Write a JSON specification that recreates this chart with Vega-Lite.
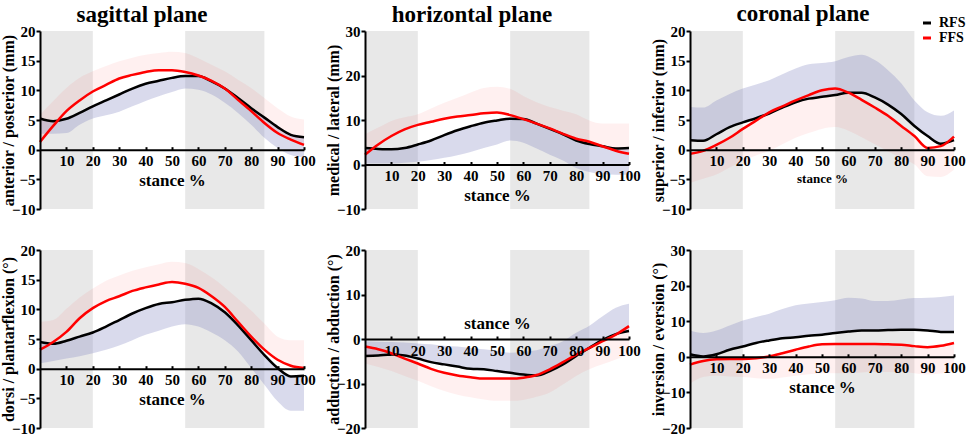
{
  "$schema": "https://vega.github.io/schema/vega-lite/v6.json",
  "description": "Mean curves (RFS vs FFS) with one-sided SD bands over stance, six panels",
  "padding": {"left": 0, "top": 2, "right": 0, "bottom": 0},
  "autosize": {"type": "pad"},
  "datasets": {
    "shade": [{"x": 0, "x2": 20}, {"x": 55, "x2": 85}],
    "curves": [
      {"p":1,"g":"RFS","x":0,"m":5.25,"b":2.7},{"p":1,"g":"RFS","x":5,"m":4.8,"b":2.7},{"p":1,"g":"RFS","x":10,"m":5.2,"b":2.8},{"p":1,"g":"RFS","x":15,"m":6.2,"b":4.2},{"p":1,"g":"RFS","x":20,"m":7.3,"b":5.25},{"p":1,"g":"RFS","x":25,"m":8.3,"b":5.8},{"p":1,"g":"RFS","x":30,"m":9.3,"b":6.4},{"p":1,"g":"RFS","x":35,"m":10.3,"b":7.3},{"p":1,"g":"RFS","x":40,"m":11.1,"b":8.2},{"p":1,"g":"RFS","x":45,"m":11.6,"b":9.0},{"p":1,"g":"RFS","x":50,"m":12.1,"b":9.7},{"p":1,"g":"RFS","x":55,"m":12.4,"b":10.3},{"p":1,"g":"RFS","x":60,"m":12.4,"b":10.1},{"p":1,"g":"RFS","x":65,"m":11.5,"b":9.3},{"p":1,"g":"RFS","x":70,"m":10.3,"b":7.9},{"p":1,"g":"RFS","x":75,"m":8.7,"b":6.2},{"p":1,"g":"RFS","x":80,"m":7.0,"b":4.2},{"p":1,"g":"RFS","x":85,"m":5.4,"b":2.0},{"p":1,"g":"RFS","x":90,"m":3.8,"b":0.3},{"p":1,"g":"RFS","x":95,"m":2.5,"b":-0.9},{"p":1,"g":"RFS","x":100,"m":2.1,"b":-1.3},
      {"p":1,"g":"FFS","x":0,"m":1.3,"b":5.9},{"p":1,"g":"FFS","x":5,"m":4.0,"b":8.2},{"p":1,"g":"FFS","x":10,"m":6.5,"b":10.4},{"p":1,"g":"FFS","x":15,"m":8.3,"b":12.1},{"p":1,"g":"FFS","x":20,"m":9.8,"b":13.2},{"p":1,"g":"FFS","x":25,"m":10.9,"b":14.1},{"p":1,"g":"FFS","x":30,"m":12.0,"b":14.9},{"p":1,"g":"FFS","x":35,"m":12.6,"b":15.5},{"p":1,"g":"FFS","x":40,"m":13.1,"b":16.0},{"p":1,"g":"FFS","x":45,"m":13.4,"b":16.3},{"p":1,"g":"FFS","x":50,"m":13.4,"b":16.5},{"p":1,"g":"FFS","x":55,"m":13.1,"b":16.3},{"p":1,"g":"FFS","x":60,"m":12.5,"b":15.4},{"p":1,"g":"FFS","x":65,"m":11.6,"b":14.3},{"p":1,"g":"FFS","x":70,"m":10.3,"b":13.2},{"p":1,"g":"FFS","x":75,"m":8.4,"b":11.8},{"p":1,"g":"FFS","x":80,"m":6.5,"b":10.4},{"p":1,"g":"FFS","x":85,"m":4.5,"b":8.7},{"p":1,"g":"FFS","x":90,"m":2.8,"b":7.0},{"p":1,"g":"FFS","x":95,"m":1.7,"b":5.6},{"p":1,"g":"FFS","x":100,"m":0.8,"b":5.1},
      {"p":2,"g":"RFS","x":0,"m":3.7,"b":0.2},{"p":2,"g":"RFS","x":5,"m":3.5,"b":0.2},{"p":2,"g":"RFS","x":10,"m":3.4,"b":0.2},{"p":2,"g":"RFS","x":15,"m":3.7,"b":0.4},{"p":2,"g":"RFS","x":20,"m":4.5,"b":0.6},{"p":2,"g":"RFS","x":25,"m":5.4,"b":1.0},{"p":2,"g":"RFS","x":30,"m":6.6,"b":1.5},{"p":2,"g":"RFS","x":35,"m":7.7,"b":2.1},{"p":2,"g":"RFS","x":40,"m":8.6,"b":2.8},{"p":2,"g":"RFS","x":45,"m":9.4,"b":3.7},{"p":2,"g":"RFS","x":50,"m":9.9,"b":4.5},{"p":2,"g":"RFS","x":55,"m":10.3,"b":5.4},{"p":2,"g":"RFS","x":60,"m":10.2,"b":4.9},{"p":2,"g":"RFS","x":65,"m":9.2,"b":3.6},{"p":2,"g":"RFS","x":70,"m":8.0,"b":2.2},{"p":2,"g":"RFS","x":75,"m":6.8,"b":0.9},{"p":2,"g":"RFS","x":80,"m":5.4,"b":-0.8},{"p":2,"g":"RFS","x":85,"m":4.6,"b":-1.7},{"p":2,"g":"RFS","x":90,"m":4.1,"b":-2.2},{"p":2,"g":"RFS","x":95,"m":3.6,"b":-2.3},{"p":2,"g":"RFS","x":100,"m":3.7,"b":-2.3},
      {"p":2,"g":"FFS","x":0,"m":2.2,"b":6.8},{"p":2,"g":"FFS","x":5,"m":4.5,"b":8.3},{"p":2,"g":"FFS","x":10,"m":6.4,"b":9.8},{"p":2,"g":"FFS","x":15,"m":7.9,"b":10.6},{"p":2,"g":"FFS","x":20,"m":8.9,"b":11.3},{"p":2,"g":"FFS","x":25,"m":9.6,"b":12.6},{"p":2,"g":"FFS","x":30,"m":10.3,"b":13.9},{"p":2,"g":"FFS","x":35,"m":10.8,"b":15.0},{"p":2,"g":"FFS","x":40,"m":11.1,"b":16.2},{"p":2,"g":"FFS","x":45,"m":11.5,"b":17.2},{"p":2,"g":"FFS","x":50,"m":11.7,"b":17.5},{"p":2,"g":"FFS","x":55,"m":11.1,"b":17.0},{"p":2,"g":"FFS","x":60,"m":10.2,"b":15.4},{"p":2,"g":"FFS","x":65,"m":9.2,"b":14.0},{"p":2,"g":"FFS","x":70,"m":8.1,"b":12.9},{"p":2,"g":"FFS","x":75,"m":6.9,"b":12.1},{"p":2,"g":"FFS","x":80,"m":5.8,"b":11.3},{"p":2,"g":"FFS","x":85,"m":5.1,"b":9.9},{"p":2,"g":"FFS","x":90,"m":4.1,"b":9.2},{"p":2,"g":"FFS","x":95,"m":3.1,"b":9.2},{"p":2,"g":"FFS","x":100,"m":2.4,"b":9.2},
      {"p":3,"g":"RFS","x":0,"m":1.6,"b":7.2},{"p":3,"g":"RFS","x":5,"m":1.5,"b":7.1},{"p":3,"g":"RFS","x":10,"m":2.6,"b":8.3},{"p":3,"g":"RFS","x":15,"m":3.8,"b":9.4},{"p":3,"g":"RFS","x":20,"m":4.6,"b":10.3},{"p":3,"g":"RFS","x":25,"m":5.3,"b":11.0},{"p":3,"g":"RFS","x":30,"m":6.1,"b":11.7},{"p":3,"g":"RFS","x":35,"m":7.1,"b":12.7},{"p":3,"g":"RFS","x":40,"m":8.0,"b":13.7},{"p":3,"g":"RFS","x":45,"m":8.6,"b":14.4},{"p":3,"g":"RFS","x":50,"m":8.9,"b":14.6},{"p":3,"g":"RFS","x":55,"m":9.2,"b":14.9},{"p":3,"g":"RFS","x":60,"m":9.6,"b":15.6},{"p":3,"g":"RFS","x":65,"m":9.6,"b":16.0},{"p":3,"g":"RFS","x":70,"m":8.8,"b":15.1},{"p":3,"g":"RFS","x":75,"m":7.6,"b":13.4},{"p":3,"g":"RFS","x":80,"m":6.0,"b":11.2},{"p":3,"g":"RFS","x":85,"m":4.0,"b":8.3},{"p":3,"g":"RFS","x":90,"m":2.3,"b":6.3},{"p":3,"g":"RFS","x":95,"m":1.0,"b":5.7},{"p":3,"g":"RFS","x":100,"m":1.6,"b":6.6},
      {"p":3,"g":"FFS","x":0,"m":-0.7,"b":-5.6},{"p":3,"g":"FFS","x":5,"m":-0.2,"b":-4.9},{"p":3,"g":"FFS","x":10,"m":0.8,"b":-4.2},{"p":3,"g":"FFS","x":15,"m":2.0,"b":-3.0},{"p":3,"g":"FFS","x":20,"m":3.5,"b":-1.9},{"p":3,"g":"FFS","x":25,"m":4.9,"b":-1.0},{"p":3,"g":"FFS","x":30,"m":6.3,"b":-0.2},{"p":3,"g":"FFS","x":35,"m":7.3,"b":0.9},{"p":3,"g":"FFS","x":40,"m":8.3,"b":2.0},{"p":3,"g":"FFS","x":45,"m":9.2,"b":2.8},{"p":3,"g":"FFS","x":50,"m":10.0,"b":3.5},{"p":3,"g":"FFS","x":55,"m":10.3,"b":3.8},{"p":3,"g":"FFS","x":60,"m":9.6,"b":3.2},{"p":3,"g":"FFS","x":65,"m":8.4,"b":2.1},{"p":3,"g":"FFS","x":70,"m":7.1,"b":0.9},{"p":3,"g":"FFS","x":75,"m":5.7,"b":-0.3},{"p":3,"g":"FFS","x":80,"m":4.0,"b":-1.4},{"p":3,"g":"FFS","x":85,"m":2.3,"b":-2.5},{"p":3,"g":"FFS","x":90,"m":0.3,"b":-4.5},{"p":3,"g":"FFS","x":95,"m":0.6,"b":-4.6},{"p":3,"g":"FFS","x":100,"m":2.2,"b":-3.4},
      {"p":4,"g":"RFS","x":0,"m":4.5,"b":0.9},{"p":4,"g":"RFS","x":5,"m":4.2,"b":1.3},{"p":4,"g":"RFS","x":10,"m":4.7,"b":1.7},{"p":4,"g":"RFS","x":15,"m":5.4,"b":2.1},{"p":4,"g":"RFS","x":20,"m":6.1,"b":2.6},{"p":4,"g":"RFS","x":25,"m":7.1,"b":3.2},{"p":4,"g":"RFS","x":30,"m":8.2,"b":3.9},{"p":4,"g":"RFS","x":35,"m":9.3,"b":4.8},{"p":4,"g":"RFS","x":40,"m":10.2,"b":5.7},{"p":4,"g":"RFS","x":45,"m":10.9,"b":6.4},{"p":4,"g":"RFS","x":50,"m":11.2,"b":7.1},{"p":4,"g":"RFS","x":55,"m":11.6,"b":7.5},{"p":4,"g":"RFS","x":60,"m":11.8,"b":7.1},{"p":4,"g":"RFS","x":65,"m":11.0,"b":6.1},{"p":4,"g":"RFS","x":70,"m":9.5,"b":4.8},{"p":4,"g":"RFS","x":75,"m":7.3,"b":2.9},{"p":4,"g":"RFS","x":80,"m":4.8,"b":0.1},{"p":4,"g":"RFS","x":85,"m":2.3,"b":-2.7},{"p":4,"g":"RFS","x":90,"m":0.1,"b":-5.5},{"p":4,"g":"RFS","x":95,"m":-1.3,"b":-7.1},{"p":4,"g":"RFS","x":100,"m":-1.2,"b":-7.1},
      {"p":4,"g":"FFS","x":0,"m":3.2,"b":7.9},{"p":4,"g":"FFS","x":5,"m":4.5,"b":8.2},{"p":4,"g":"FFS","x":10,"m":6.2,"b":10.1},{"p":4,"g":"FFS","x":15,"m":8.5,"b":12.0},{"p":4,"g":"FFS","x":20,"m":10.2,"b":13.5},{"p":4,"g":"FFS","x":25,"m":11.4,"b":14.8},{"p":4,"g":"FFS","x":30,"m":12.2,"b":15.7},{"p":4,"g":"FFS","x":35,"m":13.1,"b":16.5},{"p":4,"g":"FFS","x":40,"m":13.7,"b":17.1},{"p":4,"g":"FFS","x":45,"m":14.2,"b":17.6},{"p":4,"g":"FFS","x":50,"m":14.6,"b":18.0},{"p":4,"g":"FFS","x":55,"m":14.3,"b":17.8},{"p":4,"g":"FFS","x":60,"m":13.6,"b":16.8},{"p":4,"g":"FFS","x":65,"m":12.2,"b":15.4},{"p":4,"g":"FFS","x":70,"m":10.4,"b":13.7},{"p":4,"g":"FFS","x":75,"m":7.9,"b":11.8},{"p":4,"g":"FFS","x":80,"m":5.4,"b":9.8},{"p":4,"g":"FFS","x":85,"m":3.2,"b":7.6},{"p":4,"g":"FFS","x":90,"m":1.5,"b":5.4},{"p":4,"g":"FFS","x":95,"m":0.5,"b":4.8},{"p":4,"g":"FFS","x":100,"m":0.1,"b":4.8},
      {"p":5,"g":"RFS","x":0,"m":-3.8,"b":-0.5},{"p":5,"g":"RFS","x":5,"m":-3.7,"b":-0.6},{"p":5,"g":"RFS","x":10,"m":-3.5,"b":-0.7},{"p":5,"g":"RFS","x":15,"m":-3.7,"b":-0.8},{"p":5,"g":"RFS","x":20,"m":-4.4,"b":-1.0},{"p":5,"g":"RFS","x":25,"m":-5.2,"b":-1.2},{"p":5,"g":"RFS","x":30,"m":-5.7,"b":-1.5},{"p":5,"g":"RFS","x":35,"m":-6.2,"b":-1.7},{"p":5,"g":"RFS","x":40,"m":-6.7,"b":-2.0},{"p":5,"g":"RFS","x":45,"m":-6.8,"b":-2.3},{"p":5,"g":"RFS","x":50,"m":-7.2,"b":-2.7},{"p":5,"g":"RFS","x":55,"m":-7.6,"b":-3.1},{"p":5,"g":"RFS","x":60,"m":-8.0,"b":-2.9},{"p":5,"g":"RFS","x":65,"m":-8.2,"b":-2.5},{"p":5,"g":"RFS","x":70,"m":-7.2,"b":-1.6},{"p":5,"g":"RFS","x":75,"m":-5.7,"b":-0.5},{"p":5,"g":"RFS","x":80,"m":-3.8,"b":1.4},{"p":5,"g":"RFS","x":85,"m":-2.0,"b":3.0},{"p":5,"g":"RFS","x":90,"m":-0.2,"b":5.1},{"p":5,"g":"RFS","x":95,"m":1.1,"b":7.0},{"p":5,"g":"RFS","x":100,"m":1.8,"b":7.9},
      {"p":5,"g":"FFS","x":0,"m":-1.7,"b":-5.5},{"p":5,"g":"FFS","x":5,"m":-2.3,"b":-6.3},{"p":5,"g":"FFS","x":10,"m":-3.2,"b":-7.2},{"p":5,"g":"FFS","x":15,"m":-4.4,"b":-8.3},{"p":5,"g":"FFS","x":20,"m":-5.5,"b":-9.4},{"p":5,"g":"FFS","x":25,"m":-6.7,"b":-10.6},{"p":5,"g":"FFS","x":30,"m":-7.6,"b":-11.7},{"p":5,"g":"FFS","x":35,"m":-8.2,"b":-12.5},{"p":5,"g":"FFS","x":40,"m":-8.6,"b":-13.1},{"p":5,"g":"FFS","x":45,"m":-8.9,"b":-13.6},{"p":5,"g":"FFS","x":50,"m":-8.9,"b":-13.9},{"p":5,"g":"FFS","x":55,"m":-8.9,"b":-13.9},{"p":5,"g":"FFS","x":60,"m":-8.7,"b":-13.7},{"p":5,"g":"FFS","x":65,"m":-8.1,"b":-13.0},{"p":5,"g":"FFS","x":70,"m":-6.8,"b":-12.0},{"p":5,"g":"FFS","x":75,"m":-5.2,"b":-10.2},{"p":5,"g":"FFS","x":80,"m":-3.5,"b":-8.3},{"p":5,"g":"FFS","x":85,"m":-2.0,"b":-6.8},{"p":5,"g":"FFS","x":90,"m":-0.5,"b":-5.7},{"p":5,"g":"FFS","x":95,"m":1.0,"b":-4.6},{"p":5,"g":"FFS","x":100,"m":2.9,"b":-3.5},
      {"p":6,"g":"RFS","x":0,"m":0.7,"b":7.4},{"p":6,"g":"RFS","x":5,"m":0.1,"b":6.7},{"p":6,"g":"RFS","x":10,"m":0.7,"b":7.4},{"p":6,"g":"RFS","x":15,"m":2.0,"b":8.8},{"p":6,"g":"RFS","x":20,"m":2.9,"b":10.2},{"p":6,"g":"RFS","x":25,"m":3.9,"b":11.2},{"p":6,"g":"RFS","x":30,"m":4.6,"b":12.1},{"p":6,"g":"RFS","x":35,"m":5.2,"b":13.4},{"p":6,"g":"RFS","x":40,"m":5.5,"b":14.5},{"p":6,"g":"RFS","x":45,"m":5.9,"b":15.0},{"p":6,"g":"RFS","x":50,"m":6.2,"b":15.4},{"p":6,"g":"RFS","x":55,"m":6.7,"b":15.9},{"p":6,"g":"RFS","x":60,"m":7.1,"b":16.6},{"p":6,"g":"RFS","x":65,"m":7.4,"b":16.4},{"p":6,"g":"RFS","x":70,"m":7.4,"b":15.7},{"p":6,"g":"RFS","x":75,"m":7.5,"b":15.7},{"p":6,"g":"RFS","x":80,"m":7.6,"b":16.1},{"p":6,"g":"RFS","x":85,"m":7.6,"b":16.5},{"p":6,"g":"RFS","x":90,"m":7.4,"b":16.6},{"p":6,"g":"RFS","x":95,"m":7.0,"b":16.8},{"p":6,"g":"RFS","x":100,"m":7.0,"b":17.2},
      {"p":6,"g":"FFS","x":0,"m":-2.2,"b":-7.6},{"p":6,"g":"FFS","x":5,"m":-1.2,"b":-5.7},{"p":6,"g":"FFS","x":10,"m":-0.7,"b":-5.3},{"p":6,"g":"FFS","x":15,"m":-0.6,"b":-5.5},{"p":6,"g":"FFS","x":20,"m":-0.6,"b":-5.7},{"p":6,"g":"FFS","x":25,"m":-0.4,"b":-6.0},{"p":6,"g":"FFS","x":30,"m":0.1,"b":-6.2},{"p":6,"g":"FFS","x":35,"m":1.0,"b":-5.8},{"p":6,"g":"FFS","x":40,"m":2.0,"b":-5.3},{"p":6,"g":"FFS","x":45,"m":2.9,"b":-4.9},{"p":6,"g":"FFS","x":50,"m":3.5,"b":-4.6},{"p":6,"g":"FFS","x":55,"m":3.6,"b":-4.6},{"p":6,"g":"FFS","x":60,"m":3.6,"b":-4.6},{"p":6,"g":"FFS","x":65,"m":3.6,"b":-4.4},{"p":6,"g":"FFS","x":70,"m":3.6,"b":-4.3},{"p":6,"g":"FFS","x":75,"m":3.5,"b":-4.3},{"p":6,"g":"FFS","x":80,"m":3.4,"b":-4.3},{"p":6,"g":"FFS","x":85,"m":3.0,"b":-4.6},{"p":6,"g":"FFS","x":90,"m":2.7,"b":-5.0},{"p":6,"g":"FFS","x":95,"m":3.1,"b":-4.7},{"p":6,"g":"FFS","x":100,"m":3.9,"b":-4.3}
    ]
  },
  "columns": 3,
  "bounds": "flush",
  "spacing": {"column": 61, "row": 41},
  "resolve": {"scale": {"stroke": "independent"}},
  "concat": [
    {
      "width": 264, "height": 178,
      "title": {"text": "sagittal plane", "dx": -30},
      "encoding": {
        "x": {"field": "x", "type": "quantitative", "scale": {"domain": [0, 100], "nice": false},
              "axis": {"values": [10,20,30,40,50,60,70,80,90,100], "title": "stance %", "offset": -59.33, "zindex": 2}}
      },
      "layer": [
        {"data": {"name": "shade"}, "mark": {"type": "rect", "color": "#e8e8e8"}, "encoding": {"x2": {"field": "x2"}}},
        {"data": {"name": "curves"}, "transform": [{"filter": "datum.p == 1 && datum.g == 'RFS'"}],
         "mark": {"type": "area", "interpolate": "monotone", "color": "#8084c0", "opacity": 0.3},
         "encoding": {"y": {"field": "m", "type": "quantitative", "scale": {"domain": [-10, 20], "nice": false}, "axis": {"values": [-10,-5,0,5,10,15,20], "title": "anterior / posterior (mm)", "zindex": 2}}, "y2": {"field": "b"}}},
        {"data": {"name": "curves"}, "transform": [{"filter": "datum.p == 1 && datum.g == 'FFS'"}],
         "mark": {"type": "area", "interpolate": "monotone", "color": "#ff0000", "opacity": 0.06},
         "encoding": {"y": {"field": "m", "type": "quantitative", "scale": {"domain": [-10, 20], "nice": false}, "axis": {"values": [-10,-5,0,5,10,15,20], "title": "anterior / posterior (mm)", "zindex": 2}}, "y2": {"field": "b"}}},
        {"data": {"name": "curves"}, "transform": [{"filter": "datum.p == 1"}], "mark": {"type": "line", "interpolate": "monotone", "strokeWidth": 2.5},
         "encoding": {"y": {"field": "m", "type": "quantitative", "scale": {"domain": [-10, 20], "nice": false}, "axis": {"values": [-10,-5,0,5,10,15,20], "title": "anterior / posterior (mm)", "zindex": 2}},
                      "stroke": {"field": "g", "type": "nominal", "scale": {"domain": ["RFS", "FFS"], "range": ["#000000", "#ff0000"]}, "legend": null}}}
      ]
    },
    {
      "width": 264, "height": 178,
      "title": {"text": "horizontal plane", "dx": -25},
      "encoding": {
        "x": {"field": "x", "type": "quantitative", "scale": {"domain": [0, 100], "nice": false},
              "axis": {"values": [10,20,30,40,50,60,70,80,90,100], "title": "stance %", "offset": -44.5, "zindex": 2}}
      },
      "layer": [
        {"data": {"name": "shade"}, "mark": {"type": "rect", "color": "#e8e8e8"}, "encoding": {"x2": {"field": "x2"}}},
        {"data": {"name": "curves"}, "transform": [{"filter": "datum.p == 2 && datum.g == 'RFS'"}],
         "mark": {"type": "area", "interpolate": "monotone", "color": "#8084c0", "opacity": 0.3},
         "encoding": {"y": {"field": "m", "type": "quantitative", "scale": {"domain": [-10, 30], "nice": false}, "axis": {"values": [-10,0,10,20,30], "title": "medical / lateral (mm)", "zindex": 2}}, "y2": {"field": "b"}}},
        {"data": {"name": "curves"}, "transform": [{"filter": "datum.p == 2 && datum.g == 'FFS'"}],
         "mark": {"type": "area", "interpolate": "monotone", "color": "#ff0000", "opacity": 0.06},
         "encoding": {"y": {"field": "m", "type": "quantitative", "scale": {"domain": [-10, 30], "nice": false}, "axis": {"values": [-10,0,10,20,30], "title": "medical / lateral (mm)", "zindex": 2}}, "y2": {"field": "b"}}},
        {"data": {"name": "curves"}, "transform": [{"filter": "datum.p == 2"}], "mark": {"type": "line", "interpolate": "monotone", "strokeWidth": 2.5},
         "encoding": {"y": {"field": "m", "type": "quantitative", "scale": {"domain": [-10, 30], "nice": false}, "axis": {"values": [-10,0,10,20,30], "title": "medical / lateral (mm)", "zindex": 2}},
                      "stroke": {"field": "g", "type": "nominal", "scale": {"domain": ["RFS", "FFS"], "range": ["#000000", "#ff0000"]}, "legend": null}}}
      ]
    },
    {
      "width": 264, "height": 178,
      "title": {"text": "coronal plane", "dx": -19, "offset": -9.5},
      "encoding": {
        "x": {"field": "x", "type": "quantitative", "scale": {"domain": [0, 100], "nice": false},
              "axis": {"values": [10,20,30,40,50,60,70,80,90,100], "title": "stance %", "titleFontSize": 13, "offset": -59.33, "zindex": 2}}
      },
      "layer": [
        {"data": {"name": "shade"}, "mark": {"type": "rect", "color": "#e8e8e8"}, "encoding": {"x2": {"field": "x2"}}},
        {"data": {"name": "curves"}, "transform": [{"filter": "datum.p == 3 && datum.g == 'RFS'"}],
         "mark": {"type": "area", "interpolate": "monotone", "color": "#8084c0", "opacity": 0.3},
         "encoding": {"y": {"field": "m", "type": "quantitative", "scale": {"domain": [-10, 20], "nice": false}, "axis": {"values": [-10,-5,0,5,10,15,20], "title": "superior / inferior (mm)", "zindex": 2}}, "y2": {"field": "b"}}},
        {"data": {"name": "curves"}, "transform": [{"filter": "datum.p == 3 && datum.g == 'FFS'"}],
         "mark": {"type": "area", "interpolate": "monotone", "color": "#ff0000", "opacity": 0.06},
         "encoding": {"y": {"field": "m", "type": "quantitative", "scale": {"domain": [-10, 20], "nice": false}, "axis": {"values": [-10,-5,0,5,10,15,20], "title": "superior / inferior (mm)", "zindex": 2}}, "y2": {"field": "b"}}},
        {"data": {"name": "curves"}, "transform": [{"filter": "datum.p == 3"}], "mark": {"type": "line", "interpolate": "monotone", "strokeWidth": 2.5},
         "encoding": {"y": {"field": "m", "type": "quantitative", "scale": {"domain": [-10, 20], "nice": false}, "axis": {"values": [-10,-5,0,5,10,15,20], "title": "superior / inferior (mm)", "zindex": 2}},
                      "stroke": {"field": "g", "type": "nominal", "scale": {"domain": ["RFS", "FFS"], "range": ["#000000", "#ff0000"]},
                                 "legend": {"orient": "none", "legendX": 230, "legendY": -15, "direction": "vertical", "title": null, "symbolType": "stroke", "symbolStrokeWidth": 3, "symbolSize": 64, "labelFontSize": 14, "labelFontWeight": "bold", "labelColor": "black", "labelOffset": 5, "rowPadding": 1, "padding": 0}}}}
      ]
    },
    {
      "width": 264, "height": 178,
      "encoding": {
        "x": {"field": "x", "type": "quantitative", "scale": {"domain": [0, 100], "nice": false},
              "axis": {"values": [10,20,30,40,50,60,70,80,90,100], "title": "stance %", "offset": -59.33, "zindex": 2}}
      },
      "layer": [
        {"data": {"name": "shade"}, "mark": {"type": "rect", "color": "#e8e8e8"}, "encoding": {"x2": {"field": "x2"}}},
        {"data": {"name": "curves"}, "transform": [{"filter": "datum.p == 4 && datum.g == 'RFS'"}],
         "mark": {"type": "area", "interpolate": "monotone", "color": "#8084c0", "opacity": 0.3},
         "encoding": {"y": {"field": "m", "type": "quantitative", "scale": {"domain": [-10, 20], "nice": false}, "axis": {"values": [-10,-5,0,5,10,15,20], "title": "dorsi / plantarflexion (°)", "zindex": 2}}, "y2": {"field": "b"}}},
        {"data": {"name": "curves"}, "transform": [{"filter": "datum.p == 4 && datum.g == 'FFS'"}],
         "mark": {"type": "area", "interpolate": "monotone", "color": "#ff0000", "opacity": 0.06},
         "encoding": {"y": {"field": "m", "type": "quantitative", "scale": {"domain": [-10, 20], "nice": false}, "axis": {"values": [-10,-5,0,5,10,15,20], "title": "dorsi / plantarflexion (°)", "zindex": 2}}, "y2": {"field": "b"}}},
        {"data": {"name": "curves"}, "transform": [{"filter": "datum.p == 4"}], "mark": {"type": "line", "interpolate": "monotone", "strokeWidth": 2.5},
         "encoding": {"y": {"field": "m", "type": "quantitative", "scale": {"domain": [-10, 20], "nice": false}, "axis": {"values": [-10,-5,0,5,10,15,20], "title": "dorsi / plantarflexion (°)", "zindex": 2}},
                      "stroke": {"field": "g", "type": "nominal", "scale": {"domain": ["RFS", "FFS"], "range": ["#000000", "#ff0000"]}, "legend": null}}}
      ]
    },
    {
      "width": 264, "height": 178,
      "encoding": {
        "x": {"field": "x", "type": "quantitative", "scale": {"domain": [0, 100], "nice": false},
              "axis": {"values": [10,20,30,40,50,60,70,80,90,100], "title": "stance %", "titleY": -24, "offset": -89, "zindex": 2}}
      },
      "layer": [
        {"data": {"name": "shade"}, "mark": {"type": "rect", "color": "#e8e8e8"}, "encoding": {"x2": {"field": "x2"}}},
        {"data": {"name": "curves"}, "transform": [{"filter": "datum.p == 5 && datum.g == 'RFS'"}],
         "mark": {"type": "area", "interpolate": "monotone", "color": "#8084c0", "opacity": 0.3},
         "encoding": {"y": {"field": "m", "type": "quantitative", "scale": {"domain": [-20, 20], "nice": false}, "axis": {"values": [-20,-10,0,10,20], "title": "adduction / abduction (°)", "zindex": 2}}, "y2": {"field": "b"}}},
        {"data": {"name": "curves"}, "transform": [{"filter": "datum.p == 5 && datum.g == 'FFS'"}],
         "mark": {"type": "area", "interpolate": "monotone", "color": "#ff0000", "opacity": 0.06},
         "encoding": {"y": {"field": "m", "type": "quantitative", "scale": {"domain": [-20, 20], "nice": false}, "axis": {"values": [-20,-10,0,10,20], "title": "adduction / abduction (°)", "zindex": 2}}, "y2": {"field": "b"}}},
        {"data": {"name": "curves"}, "transform": [{"filter": "datum.p == 5"}], "mark": {"type": "line", "interpolate": "monotone", "strokeWidth": 2.5},
         "encoding": {"y": {"field": "m", "type": "quantitative", "scale": {"domain": [-20, 20], "nice": false}, "axis": {"values": [-20,-10,0,10,20], "title": "adduction / abduction (°)", "zindex": 2}},
                      "stroke": {"field": "g", "type": "nominal", "scale": {"domain": ["RFS", "FFS"], "range": ["#000000", "#ff0000"]}, "legend": null}}}
      ]
    },
    {
      "width": 264, "height": 178,
      "encoding": {
        "x": {"field": "x", "type": "quantitative", "scale": {"domain": [0, 100], "nice": false},
              "axis": {"values": [10,20,30,40,50,60,70,80,90,100], "title": "stance %", "offset": -71.2, "zindex": 2}}
      },
      "layer": [
        {"data": {"name": "shade"}, "mark": {"type": "rect", "color": "#e8e8e8"}, "encoding": {"x2": {"field": "x2"}}},
        {"data": {"name": "curves"}, "transform": [{"filter": "datum.p == 6 && datum.g == 'RFS'"}],
         "mark": {"type": "area", "interpolate": "monotone", "color": "#8084c0", "opacity": 0.3},
         "encoding": {"y": {"field": "m", "type": "quantitative", "scale": {"domain": [-20, 30], "nice": false}, "axis": {"values": [-20,-10,0,10,20,30], "title": "inversion / eversion (°)", "zindex": 2}}, "y2": {"field": "b"}}},
        {"data": {"name": "curves"}, "transform": [{"filter": "datum.p == 6 && datum.g == 'FFS'"}],
         "mark": {"type": "area", "interpolate": "monotone", "color": "#ff0000", "opacity": 0.06},
         "encoding": {"y": {"field": "m", "type": "quantitative", "scale": {"domain": [-20, 30], "nice": false}, "axis": {"values": [-20,-10,0,10,20,30], "title": "inversion / eversion (°)", "zindex": 2}}, "y2": {"field": "b"}}},
        {"data": {"name": "curves"}, "transform": [{"filter": "datum.p == 6"}], "mark": {"type": "line", "interpolate": "monotone", "strokeWidth": 2.5},
         "encoding": {"y": {"field": "m", "type": "quantitative", "scale": {"domain": [-20, 30], "nice": false}, "axis": {"values": [-20,-10,0,10,20,30], "title": "inversion / eversion (°)", "zindex": 2}},
                      "stroke": {"field": "g", "type": "nominal", "scale": {"domain": ["RFS", "FFS"], "range": ["#000000", "#ff0000"]}, "legend": null}}}
      ]
    }
  ],
  "config": {
    "view": {"stroke": null},
    "font": "'Liberation Serif', 'Times New Roman', serif",
    "axis": {
      "zindex": 2,
      "grid": false, "domainColor": "black", "domainWidth": 2, "tickColor": "black", "tickWidth": 2, "tickSize": 4,
      "labelFont": "'Liberation Serif', 'Times New Roman', serif", "labelFontWeight": "bold", "labelFontSize": 15, "labelColor": "black", "labelPadding": 1,
      "labelOverlap": false, "labelFlush": false,
      "titleFont": "'Liberation Serif', 'Times New Roman', serif", "titleFontWeight": "bold", "titleFontSize": 16, "titleColor": "black"
    },
    "axisX": {"titleFontSize": 17, "titlePadding": 4, "tickSize": -3, "labelPadding": 7},
    "axisY": {"titleX": -24},
    "legend": {"labelFont": "'Liberation Serif', 'Times New Roman', serif"},
    "title": {"font": "'Liberation Serif', 'Times New Roman', serif", "fontSize": 23, "fontWeight": "bold", "color": "black", "anchor": "middle", "offset": -3}
  }
}
